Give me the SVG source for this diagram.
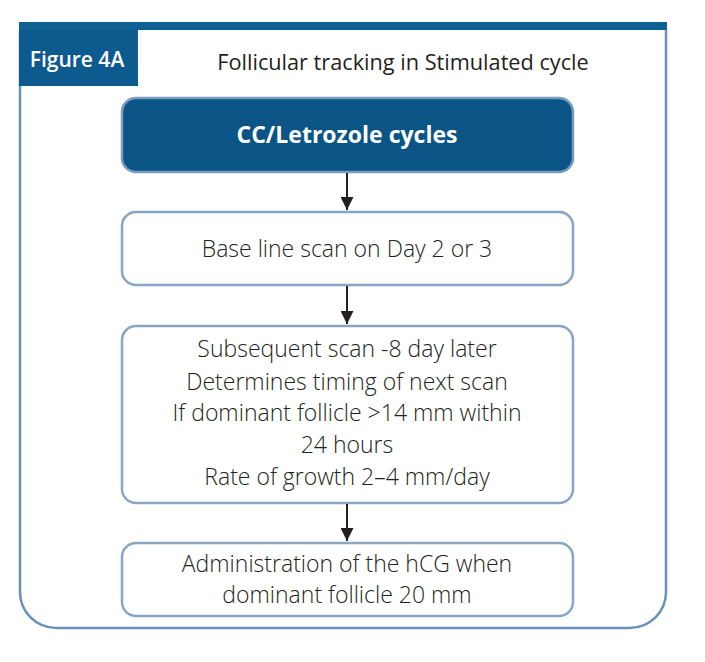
<svg xmlns="http://www.w3.org/2000/svg" width="705" height="662" viewBox="0 0 705 662">
<defs>
<style>
.t{font-family:"Open Sans","Noto Sans",sans-serif;font-weight:300;fill:#231f20;text-anchor:middle;font-size:23px}
.box{fill:#fff;stroke:#8aa4c4;stroke-width:2.5}
.conn{stroke:#231f20;stroke-width:2;fill:none}
</style>
<marker id="ah" viewBox="0 0 10 10" refX="10" refY="5" markerWidth="7" markerHeight="6.5" orient="auto" markerUnits="strokeWidth"><path d="M0,0 L10,5 L0,10 z" fill="#231f20"/></marker>
</defs>
<rect width="705" height="662" fill="#fff"/>
<g id="frame">
<path d="M20,30 V592 A36,36 0 0 0 56,628 H630 A36,36 0 0 0 666,592 V30" fill="none" stroke="#6a91bc" stroke-width="2.5"/>
<rect x="19" y="22" width="648" height="8" fill="#0f6195"/>
<rect x="19" y="30" width="119" height="56" fill="#0d5a8e"/>
<text x="77" y="67" style="font-family:'Open Sans','Noto Sans',sans-serif;font-weight:600;font-size:21px;fill:#fff;text-anchor:middle">Figure 4A</text>
<text x="403" y="70" class="t" style="font-weight:400;font-size:21.7px">Follicular tracking in Stimulated cycle</text>
</g>
<g id="n1">
<rect x="122" y="98" width="451" height="74" rx="14" fill="#0b5486" stroke="#7a9cc0" stroke-width="2.5"/>
<text x="347" y="143" style="font-family:'Open Sans','Noto Sans',sans-serif;font-weight:700;font-size:23px;fill:#fff;text-anchor:middle">CC/Letrozole cycles</text>
</g>
<g id="n2">
<rect x="122" y="212" width="451" height="73" rx="14" class="box"/>
<text x="347" y="257" class="t">Base line scan on Day 2 or 3</text>
</g>
<g id="n3">
<rect x="122" y="326" width="451" height="177" rx="14" class="box"/>
<text x="347" y="357" class="t">Subsequent scan -8 day later</text>
<text x="347" y="390" class="t">Determines timing of next scan</text>
<text x="347" y="421" class="t">If dominant follicle &gt;14 mm within</text>
<text x="347" y="453" class="t">24 hours</text>
<text x="347" y="485" class="t">Rate of growth 2–4 mm/day</text>
</g>
<g id="n4">
<rect x="122" y="543" width="451" height="73" rx="14" class="box"/>
<text x="347" y="572" class="t">Administration of the hCG when</text>
<text x="347" y="603" class="t">dominant follicle 20 mm</text>
</g>
<g id="connectors">
<line x1="347" y1="173" x2="347" y2="210" class="conn" marker-end="url(#ah)"/>
<line x1="347" y1="286" x2="347" y2="324" class="conn" marker-end="url(#ah)"/>
<line x1="347" y1="504" x2="347" y2="541" class="conn" marker-end="url(#ah)"/>
</g>
</svg>
